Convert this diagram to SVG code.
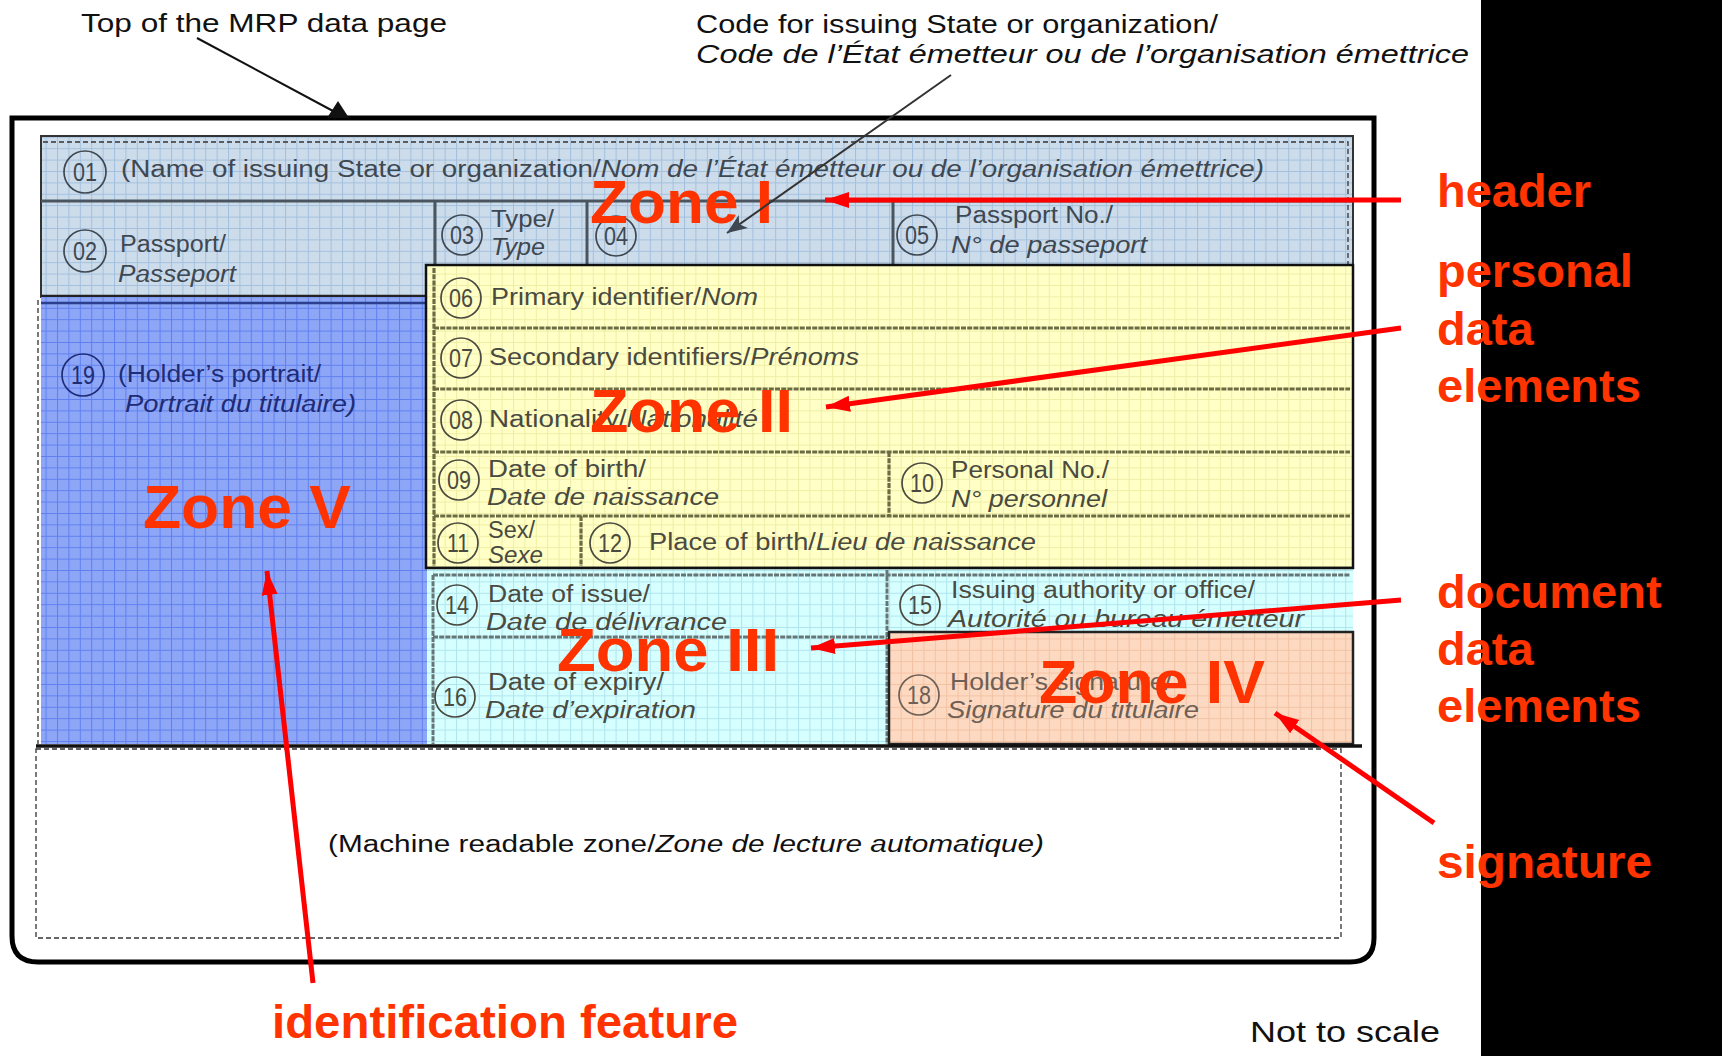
<svg xmlns="http://www.w3.org/2000/svg" width="1722" height="1056" viewBox="0 0 1722 1056">
<style>
.t{font-family:"Liberation Sans",Arial,sans-serif;font-size:23px;fill:#4a4a40}
.th{fill:#3e4852}
.tb{fill:#1e2c78}
.to{fill:#6e6055}
.i{font-style:italic}
.n{font-family:"Liberation Sans",Arial,sans-serif;font-size:25px;text-anchor:middle}
.c{fill:none;stroke-width:1.7}
.blk{font-family:"Liberation Sans",Arial,sans-serif;font-size:26px;fill:#111}
.zone{font-family:"Liberation Sans",Arial,sans-serif;font-size:62px;font-weight:bold;fill:#ff3300}
.lab{font-family:"Liberation Sans",Arial,sans-serif;font-size:47px;font-weight:bold;fill:#ff3300}
.ra{stroke:#ff0000;stroke-width:5;fill:none}
.row{stroke:#6c6c44;stroke-width:3.2;stroke-dasharray:5 1.2;fill:none}
.rowc{stroke:#667676;stroke-width:3;stroke-dasharray:5 1.2;fill:none}
.dash{stroke:#333;stroke-width:1.3;stroke-dasharray:5 3;fill:none}
</style>
<defs>
<pattern id="gH" width="11.4" height="11.4" patternUnits="userSpaceOnUse"><rect width="11.4" height="11.4" fill="#cddcea"/><path d="M0 0.5H11.4M0.5 0V11.4" stroke="#a2c0de" stroke-width="1"/></pattern>
<pattern id="gV" width="11.4" height="11.4" patternUnits="userSpaceOnUse"><rect width="11.4" height="11.4" fill="#8ea6f6"/><path d="M0 0.5H11.4M0.5 0V11.4" stroke="#5f7ff0" stroke-width="1"/></pattern>
<pattern id="gY" width="11.4" height="11.4" patternUnits="userSpaceOnUse"><rect width="11.4" height="11.4" fill="#ffffc6"/><path d="M0 0.5H11.4M0.5 0V11.4" stroke="#eeeea6" stroke-width="1"/></pattern>
<pattern id="gC" width="11.4" height="11.4" patternUnits="userSpaceOnUse"><rect width="11.4" height="11.4" fill="#d6ffff"/><path d="M0 0.5H11.4M0.5 0V11.4" stroke="#b0e4ee" stroke-width="1"/></pattern>
<pattern id="gO" width="11.4" height="11.4" patternUnits="userSpaceOnUse"><rect width="11.4" height="11.4" fill="#fdd9c2"/><path d="M0 0.5H11.4M0.5 0V11.4" stroke="#f2c2a2" stroke-width="1"/></pattern>
<marker id="ar" markerUnits="userSpaceOnUse" markerWidth="26" markerHeight="20" refX="24" refY="10" orient="auto"><path d="M0 2 L24 10 L0 18 Z" fill="#ff0000"/></marker>
<marker id="ag" markerUnits="userSpaceOnUse" markerWidth="22" markerHeight="20" refX="20" refY="10" orient="auto"><path d="M0 2 L20 10 L0 18 L5 10 Z" fill="#3e4852"/></marker>
</defs>
<rect width="1722" height="1056" fill="#fff"/>

<g id="frame">
<path d="M12 118 H1374 V938 Q1374 962 1350 962 H38 Q12 962 12 936 Z" fill="none" stroke="#000" stroke-width="5"/>
</g>

<g id="zone1-header">
<rect x="41" y="136" width="1312" height="161" fill="url(#gH)" stroke="#333" stroke-width="2"/>
<path class="dash" d="M43 142 H1348 V744"/>
<path d="M41 201 H1353" stroke="#4a5560" stroke-width="3"/>
<path d="M435 201 V265 M587 201 V265 M893 201 V265" stroke="#4a5560" stroke-width="3"/>
<path d="M41 296 H426" stroke="#222" stroke-width="2.5"/>
</g>

<g id="zone5-portrait">
<rect x="41" y="297" width="386" height="447" fill="url(#gV)"/>
<path d="M41 303 H426" stroke="#2a3f90" stroke-width="2.5"/>
<path class="dash" d="M38 300 V744"/>
</g>

<g id="zone2-personal">
<rect x="426" y="265" width="927" height="303" fill="url(#gY)" stroke="#111" stroke-width="2.5"/>
<path class="row" d="M434 328 H1350 M434 389 H1350 M434 452 H1350 M434 516 H1350"/>
<path class="row" d="M434 268 V566 M889 452 V516 M581 516 V566"/>
</g>

<g id="zone3-document">
<rect x="427" y="568" width="926" height="176" fill="url(#gC)"/>
<path d="M426 568 H1353" stroke="#111" stroke-width="2.5"/>
<path class="rowc" d="M433 575 H1350 M433 637 H887 M433 575 V744 M887 570 V744"/>
</g>

<g id="zone4-signature">
<rect x="889" y="632" width="464" height="112" fill="url(#gO)" stroke="#222" stroke-width="2.5"/>
</g>

<g id="mrz">
<path d="M36 746 H1362" stroke="#111" stroke-width="3.5"/>
<rect class="dash" x="36" y="749" width="1305" height="189"/>
</g>

<g id="f01">
<circle class="c" cx="85" cy="172" r="21" stroke="#3e4852"/><text class="n th" x="85" y="181" textLength="24" lengthAdjust="spacingAndGlyphs">01</text>
<text class="t th" x="121" y="177" textLength="1143" lengthAdjust="spacingAndGlyphs">(Name of issuing State or organization/<tspan class="i">Nom de l’État émetteur ou de l’organisation émettrice)</tspan></text>
</g>
<g id="f02">
<circle class="c" cx="85" cy="251" r="21" stroke="#3e4852"/><text class="n th" x="85" y="260" textLength="24" lengthAdjust="spacingAndGlyphs">02</text>
<text class="t th" x="120" y="252" textLength="106" lengthAdjust="spacingAndGlyphs">Passport/</text>
<text class="t th i" x="118" y="282" textLength="118" lengthAdjust="spacingAndGlyphs">Passeport</text>
</g>
<g id="f03">
<circle class="c" cx="462" cy="235" r="20" stroke="#3e4852"/><text class="n th" x="462" y="244" textLength="24" lengthAdjust="spacingAndGlyphs">03</text>
<text class="t th" x="491" y="227" textLength="63" lengthAdjust="spacingAndGlyphs">Type/</text>
<text class="t th i" x="491" y="255" textLength="54" lengthAdjust="spacingAndGlyphs">Type</text>
</g>
<g id="f04">
<circle class="c" cx="616" cy="236" r="20" stroke="#3e4852"/><text class="n th" x="616" y="245" textLength="24" lengthAdjust="spacingAndGlyphs">04</text>
</g>
<g id="f05">
<circle class="c" cx="917" cy="235" r="20" stroke="#3e4852"/><text class="n th" x="917" y="244" textLength="24" lengthAdjust="spacingAndGlyphs">05</text>
<text class="t th" x="955" y="223" textLength="158" lengthAdjust="spacingAndGlyphs">Passport No./</text>
<text class="t th i" x="951" y="253" textLength="196" lengthAdjust="spacingAndGlyphs">N° de passeport</text>
</g>
<g id="f06">
<circle class="c" cx="461" cy="298" r="20" stroke="#4a4a40"/><text class="n" fill="#4a4a40" x="461" y="307" textLength="24" lengthAdjust="spacingAndGlyphs">06</text>
<text class="t" x="491" y="305" textLength="267" lengthAdjust="spacingAndGlyphs">Primary identifier/<tspan class="i">Nom</tspan></text>
</g>
<g id="f07">
<circle class="c" cx="461" cy="358" r="20" stroke="#4a4a40"/><text class="n" fill="#4a4a40" x="461" y="367" textLength="24" lengthAdjust="spacingAndGlyphs">07</text>
<text class="t" x="489" y="365" textLength="370" lengthAdjust="spacingAndGlyphs">Secondary identifiers/<tspan class="i">Prénoms</tspan></text>
</g>
<g id="f08">
<circle class="c" cx="461" cy="420" r="20" stroke="#4a4a40"/><text class="n" fill="#4a4a40" x="461" y="429" textLength="24" lengthAdjust="spacingAndGlyphs">08</text>
<text class="t" x="489" y="427" textLength="269" lengthAdjust="spacingAndGlyphs">Nationality/<tspan class="i">Nationalité</tspan></text>
</g>
<g id="f09">
<circle class="c" cx="459" cy="480" r="20" stroke="#4a4a40"/><text class="n" fill="#4a4a40" x="459" y="489" textLength="24" lengthAdjust="spacingAndGlyphs">09</text>
<text class="t" x="488" y="477" textLength="158" lengthAdjust="spacingAndGlyphs">Date of birth/</text>
<text class="t i" x="487" y="505" textLength="232" lengthAdjust="spacingAndGlyphs">Date de naissance</text>
</g>
<g id="f10">
<circle class="c" cx="922" cy="483" r="20" stroke="#4a4a40"/><text class="n" fill="#4a4a40" x="922" y="492" textLength="24" lengthAdjust="spacingAndGlyphs">10</text>
<text class="t" x="951" y="478" textLength="158" lengthAdjust="spacingAndGlyphs">Personal No./</text>
<text class="t i" x="951" y="507" textLength="156" lengthAdjust="spacingAndGlyphs">N° personnel</text>
</g>
<g id="f11">
<circle class="c" cx="458" cy="543" r="20" stroke="#4a4a40"/><text class="n" fill="#4a4a40" x="458" y="552" textLength="22" lengthAdjust="spacingAndGlyphs">11</text>
<text class="t" x="488" y="538" textLength="47" lengthAdjust="spacingAndGlyphs">Sex/</text>
<text class="t i" x="488" y="563" textLength="55" lengthAdjust="spacingAndGlyphs">Sexe</text>
</g>
<g id="f12">
<circle class="c" cx="610" cy="543" r="20" stroke="#4a4a40"/><text class="n" fill="#4a4a40" x="610" y="552" textLength="24" lengthAdjust="spacingAndGlyphs">12</text>
<text class="t" x="649" y="550" textLength="387" lengthAdjust="spacingAndGlyphs">Place of birth/<tspan class="i">Lieu de naissance</tspan></text>
</g>
<g id="f14">
<circle class="c" cx="457" cy="605" r="20" stroke="#4a4a40"/><text class="n" fill="#4a4a40" x="457" y="614" textLength="24" lengthAdjust="spacingAndGlyphs">14</text>
<text class="t" x="488" y="602" textLength="162" lengthAdjust="spacingAndGlyphs">Date of issue/</text>
<text class="t i" x="486" y="630" textLength="241" lengthAdjust="spacingAndGlyphs">Date de délivrance</text>
</g>
<g id="f15">
<circle class="c" cx="920" cy="605" r="20" stroke="#4a4a40"/><text class="n" fill="#4a4a40" x="920" y="614" textLength="24" lengthAdjust="spacingAndGlyphs">15</text>
<text class="t" x="951" y="598" textLength="304" lengthAdjust="spacingAndGlyphs">Issuing authority or office/</text>
<text class="t i" x="948" y="627" textLength="356" lengthAdjust="spacingAndGlyphs">Autorité ou bureau émetteur</text>
</g>
<g id="f16">
<circle class="c" cx="455" cy="697" r="20" stroke="#4a4a40"/><text class="n" fill="#4a4a40" x="455" y="706" textLength="24" lengthAdjust="spacingAndGlyphs">16</text>
<text class="t" x="488" y="690" textLength="176" lengthAdjust="spacingAndGlyphs">Date of expiry/</text>
<text class="t i" x="485" y="718" textLength="211" lengthAdjust="spacingAndGlyphs">Date d’expiration</text>
</g>
<g id="f18">
<circle class="c" cx="919" cy="695" r="20" stroke="#6e6055"/><text class="n to" x="919" y="704" textLength="24" lengthAdjust="spacingAndGlyphs">18</text>
<text class="t to" x="950" y="690" textLength="222" lengthAdjust="spacingAndGlyphs">Holder’s signature/</text>
<text class="t to i" x="947" y="718" textLength="252" lengthAdjust="spacingAndGlyphs">Signature du titulaire</text>
</g>
<g id="f19">
<circle class="c" cx="83" cy="375" r="21" stroke="#1e2c78"/><text class="n tb" x="83" y="384" textLength="24" lengthAdjust="spacingAndGlyphs">19</text>
<text class="t tb" x="118" y="382" textLength="203" lengthAdjust="spacingAndGlyphs">(Holder’s portrait/</text>
<text class="t tb i" x="125" y="412" textLength="231" lengthAdjust="spacingAndGlyphs">Portrait du titulaire)</text>
</g>
<g id="mrz-label">
<text class="t" style="fill:#111" x="328" y="852" textLength="716" lengthAdjust="spacingAndGlyphs">(Machine readable zone/<tspan class="i">Zone de lecture automatique)</tspan></text>
</g>

<g id="annotations">
<text class="blk" x="81" y="32" textLength="366" lengthAdjust="spacingAndGlyphs">Top of the MRP data page</text>
<text class="blk" x="696" y="33" textLength="522" lengthAdjust="spacingAndGlyphs">Code for issuing State or organization/</text>
<text class="blk i" x="696" y="63" textLength="773" lengthAdjust="spacingAndGlyphs">Code de l’État émetteur ou de l’organisation émettrice</text>
<text class="blk" style="font-size:30px" x="1250" y="1042" textLength="190" lengthAdjust="spacingAndGlyphs">Not to scale</text>
</g>

<g id="zone-labels">
<text class="zone" x="590" y="223" textLength="183" lengthAdjust="spacingAndGlyphs">Zone I</text>
<text class="zone" x="590" y="432" textLength="203" lengthAdjust="spacingAndGlyphs">Zone II</text>
<text class="zone" x="557" y="671" textLength="222" lengthAdjust="spacingAndGlyphs">Zone III</text>
<text class="zone" x="1039" y="703" textLength="226" lengthAdjust="spacingAndGlyphs">Zone IV</text>
<text class="zone" x="143" y="528" textLength="208" lengthAdjust="spacingAndGlyphs">Zone V</text>
</g>

<g id="connectors">
<path d="M197 38 L333 111" stroke="#111" stroke-width="2" fill="none"/>
<polygon points="327,118 338,101 349,118" fill="#111"/>
<path d="M951 75 L727 233" stroke="#333" stroke-width="2" fill="none" marker-end="url(#ag)"/>
<path class="ra" d="M1401 200 L825 200" marker-end="url(#ar)"/>
<path class="ra" d="M1401 328 L826 407" marker-end="url(#ar)"/>
<path class="ra" d="M1401 600 L811 648" marker-end="url(#ar)"/>
<path class="ra" d="M1434 823 L1275 713" marker-end="url(#ar)"/>
<path class="ra" d="M313 983 L267 571" marker-end="url(#ar)"/>
</g>

<rect id="black-band" x="1481" y="0" width="241" height="1056" fill="#000"/>

<g id="side-labels">
<text class="lab" x="1437" y="207" textLength="154" lengthAdjust="spacingAndGlyphs">header</text>
<text class="lab" x="1437" y="287">personal</text>
<text class="lab" x="1437" y="345">data</text>
<text class="lab" x="1437" y="402">elements</text>
<text class="lab" x="1437" y="608">document</text>
<text class="lab" x="1437" y="665">data</text>
<text class="lab" x="1437" y="722">elements</text>
<text class="lab" x="1437" y="878" textLength="215" lengthAdjust="spacingAndGlyphs">signature</text>
<text class="lab" x="272" y="1038" textLength="466" lengthAdjust="spacingAndGlyphs">identification feature</text>
</g>
</svg>
